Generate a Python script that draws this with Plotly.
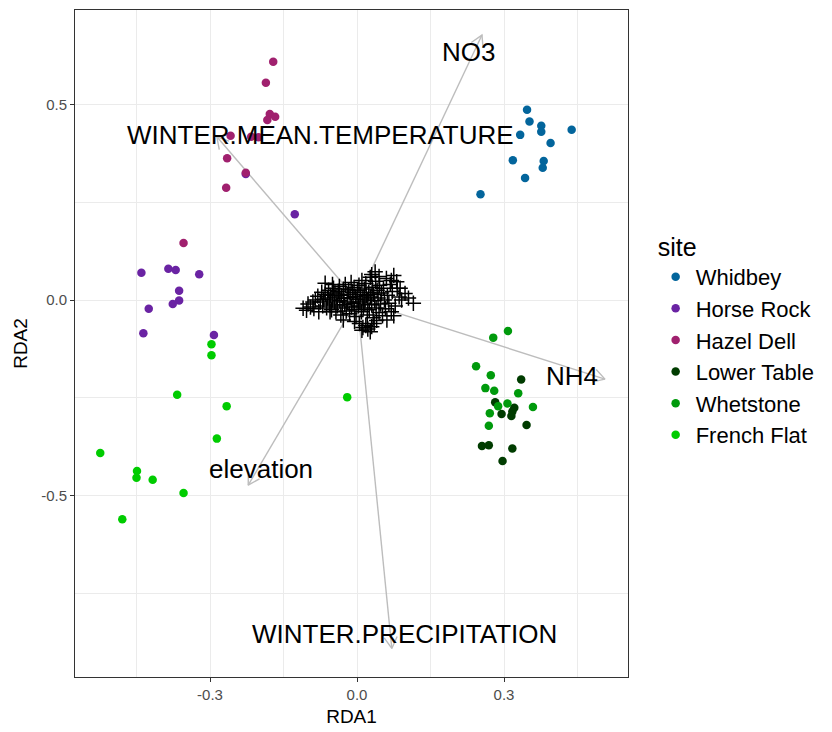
import numpy as np
import plotly.graph_objects as go

FONT = "Liberation Sans, Arial, sans-serif"

# ---------------- data ----------------
sites = ["Whidbey", "Horse Rock", "Hazel Dell", "Lower Table", "Whetstone", "French Flat"]
site_colors = ["#03659C", "#6A23A3", "#A0206E", "#003C00", "#009A0C", "#00CC00"]

whidbey_x = [0.347, 0.352, 0.376, 0.376, 0.333, 0.438, 0.395, 0.318, 0.381, 0.379, 0.343, 0.252]
whidbey_y = [0.486, 0.456, 0.445, 0.430, 0.422, 0.435, 0.401, 0.357, 0.355, 0.338, 0.312, 0.270]

horse_x = [-0.440, -0.385, -0.370, -0.322, -0.363, -0.363, -0.376, -0.425, -0.436, -0.292, -0.227, -0.127]
horse_y = [0.070, 0.080, 0.077, 0.066, 0.024, -0.001, -0.010, -0.022, -0.085, -0.089, 0.322, 0.219]

hazel_x = [-0.171, -0.186, -0.178, -0.167, -0.183, -0.258, -0.216, -0.201, -0.265, -0.227, -0.267, -0.354]
hazel_y = [0.609, 0.555, 0.475, 0.468, 0.460, 0.420, 0.417, 0.416, 0.362, 0.325, 0.287, 0.146]

lower_x = [0.335, 0.282, 0.321, 0.317, 0.315, 0.295, 0.346, 0.255, 0.269, 0.317, 0.297]
lower_y = [-0.203, -0.261, -0.275, -0.285, -0.296, -0.291, -0.319, -0.373, -0.371, -0.379, -0.411]

whet_x = [0.308, 0.278, 0.243, 0.273, 0.262, 0.280, 0.329, 0.307, 0.288, 0.359, 0.271, 0.269]
whet_y = [-0.079, -0.096, -0.169, -0.192, -0.225, -0.232, -0.238, -0.264, -0.271, -0.273, -0.289, -0.321]

french_x = [-0.297, -0.297, -0.367, -0.266, -0.286, -0.524, -0.449, -0.450, -0.417, -0.354, -0.479, -0.020]
french_y = [-0.113, -0.141, -0.242, -0.271, -0.354, -0.391, -0.437, -0.454, -0.459, -0.493, -0.560, -0.248]

site_x = [whidbey_x, horse_x, hazel_x, lower_x, whet_x, french_x]
site_y = [whidbey_y, horse_y, hazel_y, lower_y, whet_y, french_y]

# species scores (crosses)
species_x = [-0.080, -0.075, -0.072, -0.070, -0.068, -0.065, -0.062, -0.060, -0.058, -0.056,
             -0.054, -0.052, -0.050, -0.048, -0.046, -0.045, -0.043, -0.041, -0.040, -0.038,
             -0.036, -0.035, -0.033, -0.032, -0.030, -0.028, -0.027, -0.025, -0.024, -0.022,
             -0.020, -0.019, -0.017, -0.015, -0.014, -0.012, -0.011, -0.009, -0.008, -0.006,
             -0.005, -0.003, -0.002, 0.000, 0.001, 0.003, 0.004, 0.006, 0.007, 0.009,
             0.010, 0.012, 0.013, 0.015, 0.016, 0.018, 0.019, 0.021, 0.022, 0.024,
             0.025, 0.027, 0.028, 0.030, 0.031, 0.033, 0.034, 0.036, 0.038, 0.039,
             0.041, 0.043, 0.045, 0.046, 0.048, 0.050, 0.052, 0.054, 0.056, 0.058,
             0.060, 0.062, 0.065, 0.068, 0.070, 0.072, 0.075, 0.078, 0.082, 0.086,
             -0.090, -0.095, -0.100, -0.110, -0.103, -0.085, -0.088, -0.078,
             0.005, 0.012, 0.018, 0.010, 0.027, 0.022, 0.030, 0.035, -0.005, 0.040,
             0.037, 0.030, 0.045, 0.081, 0.070, 0.088,
             0.098, 0.091, 0.115, 0.105, 0.061, 0.075,
             -0.065, -0.055, -0.028, -0.050]
species_y = [0.010, -0.005, 0.020, -0.015, 0.002, 0.015, -0.020, 0.005, 0.025, -0.010,
             0.012, -0.025, 0.000, 0.030, -0.005, 0.018, -0.030, 0.008, -0.015, 0.022,
             0.035, -0.002, -0.038, 0.012, -0.020, 0.028, 0.004, -0.012, 0.040, -0.028,
             0.015, -0.005, 0.026, -0.035, 0.006, 0.045, -0.018, 0.020, -0.008, 0.032,
             -0.025, 0.010, -0.042, 0.002, 0.025, -0.015, 0.038, -0.005, 0.015, -0.030,
             0.050, 0.005, -0.020, 0.028, -0.010, 0.042, 0.012, -0.038, 0.000, 0.020,
             -0.025, 0.058, 0.008, -0.012, 0.033, -0.045, 0.015, -0.002, 0.048, -0.020,
             0.025, 0.005, -0.032, 0.038, -0.010, 0.018, -0.040, 0.030, 0.000, -0.022,
             0.055, 0.012, -0.008, 0.040, -0.030, 0.022, 0.063, -0.015, 0.030, 0.008,
             -0.005, -0.018, -0.010, -0.021, -0.026, 0.000, -0.022, -0.030,
             -0.060, -0.070, -0.065, -0.077, -0.081, -0.074, -0.068, -0.060, -0.055, -0.052,
             0.072, 0.065, 0.060, 0.047, 0.050, 0.030,
             0.017, 0.000, -0.008, 0.005, -0.051, -0.040,
             0.043, -0.030, -0.051, 0.040]

# environmental vectors
env_names = ["NO3", "WINTER.MEAN.TEMPERATURE", "NH4", "elevation", "WINTER.PRECIPITATION"]
env_x = [0.255, -0.286, 0.506, -0.222, 0.071]
env_y = [0.677, 0.417, -0.202, -0.473, -0.890]
label_x = [0.2265, -0.0755, 0.439, -0.196, 0.096]
label_y = [0.633, 0.421, -0.195, -0.432, -0.852]

x_ticks = [-0.3, 0.0, 0.3]
x_ticktext = ["-0.3", "0.0", "0.3"]
y_ticks = [-0.5, 0.0, 0.5]
y_ticktext = ["-0.5", "0.0", "0.5"]

# ---------------- layout geometry ----------------
# page body has an 8px margin; figure is sized so the plot lands where the reference has it
W, H = 824, 724
ML, MR, MT, MB = 67, 204, 2, 55
XR = [-0.5755, 0.553]
YR = [-0.963, 0.741]
px_per_x = (W - ML - MR) / (XR[1] - XR[0])
px_per_y = (H - MT - MB) / (YR[1] - YR[0])

fig = go.Figure()

# arrows (line + open arrowhead)
head_len = 13.0
head_ang = np.deg2rad(30)
ax_list, ay_list = [], []
for ex, ey in zip(env_x, env_y):
    dx, dy = ex * px_per_x, ey * px_per_y
    n = np.hypot(dx, dy)
    ux, uy = dx / n, dy / n
    wings = []
    for s in (1, -1):
        c, si = np.cos(s * head_ang), np.sin(s * head_ang)
        rx, ry = ux * c - uy * si, ux * si + uy * c
        wings.append((ex - head_len * rx / px_per_x, ey - head_len * ry / px_per_y))
    ax_list += [0, ex, None, wings[0][0], ex, wings[1][0], None]
    ay_list += [0, ey, None, wings[0][1], ey, wings[1][1], None]

fig.add_trace(go.Scatter(x=ax_list, y=ay_list, mode="lines",
                         line=dict(color="#BDBDBD", width=1.4),
                         showlegend=False, hoverinfo="skip"))

for name, col, xs, ys in zip(sites, site_colors, site_x, site_y):
    fig.add_trace(go.Scatter(x=xs, y=ys, mode="markers", name=name, legendgroup=name,
                             marker=dict(color=col, size=8.5, line=dict(width=0))))

fig.add_trace(go.Scatter(x=species_x, y=species_y, mode="markers", showlegend=False,
                         marker=dict(symbol="cross-thin", size=11, color="black",
                                     line=dict(color="black", width=1.5))))

for name, lx, ly in zip(env_names, label_x, label_y):
    fig.add_annotation(x=lx, y=ly, text=name, showarrow=False,
                       font=dict(family=FONT, size=26, color="black"),
                       xanchor="center", yanchor="middle")

axis_common = dict(
    showline=True, linecolor="#333333", linewidth=1, mirror=True,
    ticks="outside", ticklen=4, tickcolor="#333333", tickwidth=1,
    showgrid=True, gridcolor="#EBEBEB", gridwidth=1.1, zeroline=False,
    tickfont=dict(family=FONT, size=15, color="#4D4D4D"),
)

fig.update_xaxes(range=XR, tickvals=x_ticks, ticktext=x_ticktext,
                 title=dict(text="RDA1", font=dict(family=FONT, size=19, color="black"), standoff=7),
                 minor=dict(tickvals=[-0.45, -0.15, 0.15, 0.45], showgrid=True,
                            gridcolor="#EBEBEB", gridwidth=0.6, ticks=""),
                 **axis_common)
fig.update_yaxes(range=YR, tickvals=y_ticks, ticktext=y_ticktext,
                 title=dict(text="RDA2", font=dict(family=FONT, size=19, color="black"), standoff=8),
                 minor=dict(tickvals=[-0.75, -0.25, 0.25], showgrid=True,
                            gridcolor="#EBEBEB", gridwidth=0.6, ticks=""),
                 **axis_common)

fig.update_layout(
    width=W, height=H, template="none",
    margin=dict(l=ML, r=MR, t=MT, b=MB, autoexpand=False),
    plot_bgcolor="white", paper_bgcolor="white",
    font=dict(family=FONT, color="black"),
    legend=dict(title=dict(text="site", font=dict(family=FONT, size=25)),
                font=dict(family=FONT, size=22, color="black"),
                x=1.050, xanchor="left", y=0.680, yanchor="top",
                traceorder="grouped", tracegroupgap=0,
                bgcolor="rgba(0,0,0,0)"),
    showlegend=True,
)

fig.write_html("out.html")
